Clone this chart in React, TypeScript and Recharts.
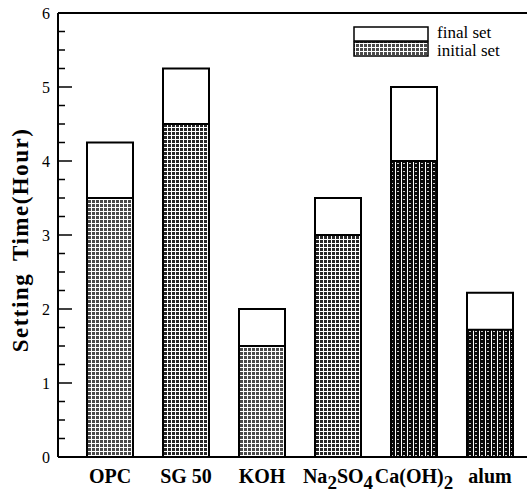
import React from 'react';
import { BarChart, Bar, XAxis, YAxis, ReferenceLine, Cell } from 'recharts';

const materials = ['OPC', 'SG 50', 'KOH', 'Na2SO4', 'Ca(OH)2', 'alum'];
const finalSet = [4.25, 5.25, 2.0, 3.5, 5.0, 2.22];
const initialSet = [3.5, 4.5, 1.5, 3.0, 4.0, 1.72];
const yTicks = [
  0, 0.25, 0.5, 0.75, 1, 1.25, 1.5, 1.75, 2, 2.25, 2.5, 2.75, 3,
  3.25, 3.5, 3.75, 4, 4.25, 4.5, 4.75, 5, 5.25, 5.5, 5.75, 6,
];

const data = materials.map((m, i) => ({
  material: m,
  finalSet: finalSet[i],
  initialSet: initialSet[i],
}));

const SERIF = '"Liberation Serif", "Times New Roman", serif';
const TICK_MARGIN = 8;
const BAR_W = 46;
// scan looks lighter on the left bars, darker on the right ones
const shade = ['url(#grid-light)', 'url(#grid-mid)', 'url(#grid-light)', 'url(#grid-mid)', 'url(#grid-dark)', 'url(#grid-dark)'];

// digits after a letter or ')' become subscripts: Na2SO4, Ca(OH)2
function splitSub(label: string) {
  const parts: { t: string; sub: boolean }[] = [];
  const re = /([A-Za-z)])(\d+)/g;
  let last = 0;
  let m: RegExpExecArray | null;
  while ((m = re.exec(label))) {
    const end = m.index + m[1].length;
    parts.push({ t: label.slice(last, end), sub: false });
    parts.push({ t: m[2], sub: true });
    last = end + m[2].length;
  }
  if (last < label.length) parts.push({ t: label.slice(last), sub: false });
  return parts;
}

function MaterialTick(props: any) {
  const { x, y, payload } = props;
  const parts = splitSub(String(payload.value));
  let shifted = false;
  return (
    <text x={x} y={y + 26} textAnchor="middle" fontFamily={SERIF} fontWeight="bold" fontSize={20} fill="#000">
      {parts.map((p, i) => {
        let dy = 0;
        if (p.sub && !shifted) { dy = 6; shifted = true; }
        else if (!p.sub && shifted) { dy = -6; shifted = false; }
        return (
          <tspan key={i} dy={dy} fontSize={p.sub ? 19 : 20}>{p.t}</tspan>
        );
      })}
    </text>
  );
}

function HourTick(props: any) {
  const { x, y, payload } = props;
  const v = Number(payload.value);
  const major = Number.isInteger(v);
  const axisX = x + TICK_MARGIN;
  return (
    <g>
      <line x1={axisX} y1={y} x2={axisX + (major ? 14 : 7)} y2={y} stroke="#000" strokeWidth={1.5} />
      {major && (
        <text x={x} y={y} dy="0.35em" textAnchor="end" fontFamily={SERIF} fontSize={16} fill="#000">
          {v}
        </text>
      )}
    </g>
  );
}

export default function App() {
  return (
    <div style={{ position: 'absolute', left: 0, top: 0, width: 527, height: 494, overflow: 'hidden', background: '#fff' }}>
      <BarChart
        width={540}
        height={494}
        data={data}
        margin={{ top: 13, right: 12, bottom: 0, left: 0 }}
        barSize={BAR_W}
        barGap={-BAR_W}
      >
        <defs>
          <pattern id="grid-light" width="4" height="4" patternUnits="userSpaceOnUse">
            <rect width="4" height="4" fill="#fff" />
            <rect width="3" height="3" fill="#4a4a4a" />
          </pattern>
          <pattern id="grid-mid" width="4" height="4" patternUnits="userSpaceOnUse">
            <rect width="4" height="4" fill="#fff" />
            <rect width="3" height="3" fill="#262626" />
          </pattern>
          <pattern id="grid-dark" width="6" height="4" patternUnits="userSpaceOnUse">
            <rect width="6" height="4" fill="#0a0a0a" />
            <rect x="5" width="1" height="4" fill="#fff" />
            <rect x="1" y="3" width="2" height="1" fill="#ccc" />
          </pattern>
        </defs>
        <XAxis
          dataKey="material"
          height={37}
          padding={{ left: 14, right: 0 }}
          tickLine={false}
          tickSize={0}
          tickMargin={0}
          axisLine={{ stroke: '#000', strokeWidth: 2 }}
          tick={<MaterialTick />}
          interval={0}
        />
        <YAxis
          width={58}
          domain={[0, 6]}
          ticks={yTicks}
          interval={0}
          tickLine={false}
          tickSize={0}
          tickMargin={TICK_MARGIN}
          axisLine={{ stroke: '#000', strokeWidth: 2 }}
          tick={<HourTick />}
        />
        <ReferenceLine y={6} stroke="#000" strokeWidth={2} />
        <Bar dataKey="finalSet" fill="#fff" stroke="#000" strokeWidth={2} isAnimationActive={false} />
        <Bar dataKey="initialSet" stroke="#000" strokeWidth={2} isAnimationActive={false}>
          {data.map((d, i) => (
            <Cell key={d.material} fill={shade[i]} />
          ))}
        </Bar>
        <text
          x={20}
          y={240}
          transform="rotate(-90 20 240)"
          textAnchor="middle"
          dominantBaseline="central"
          fontFamily={SERIF}
          fontWeight="bold"
          fontSize={23}
          letterSpacing={1.5}
          wordSpacing={5}
          fill="#000"
        >
          Setting Time(Hour)
        </text>
        <g fontFamily={SERIF} fontSize={17} fill="#000">
          <rect x={354} y={27} width={74} height={14} fill="#fff" stroke="#000" strokeWidth={1.5} />
          <rect x={354} y={42} width={74} height={14} fill="url(#grid-light)" stroke="#000" strokeWidth={1.5} />
          <text x={437} y={38}>final set</text>
          <text x={437} y={56}>initial set</text>
        </g>
      </BarChart>
    </div>
  );
}
